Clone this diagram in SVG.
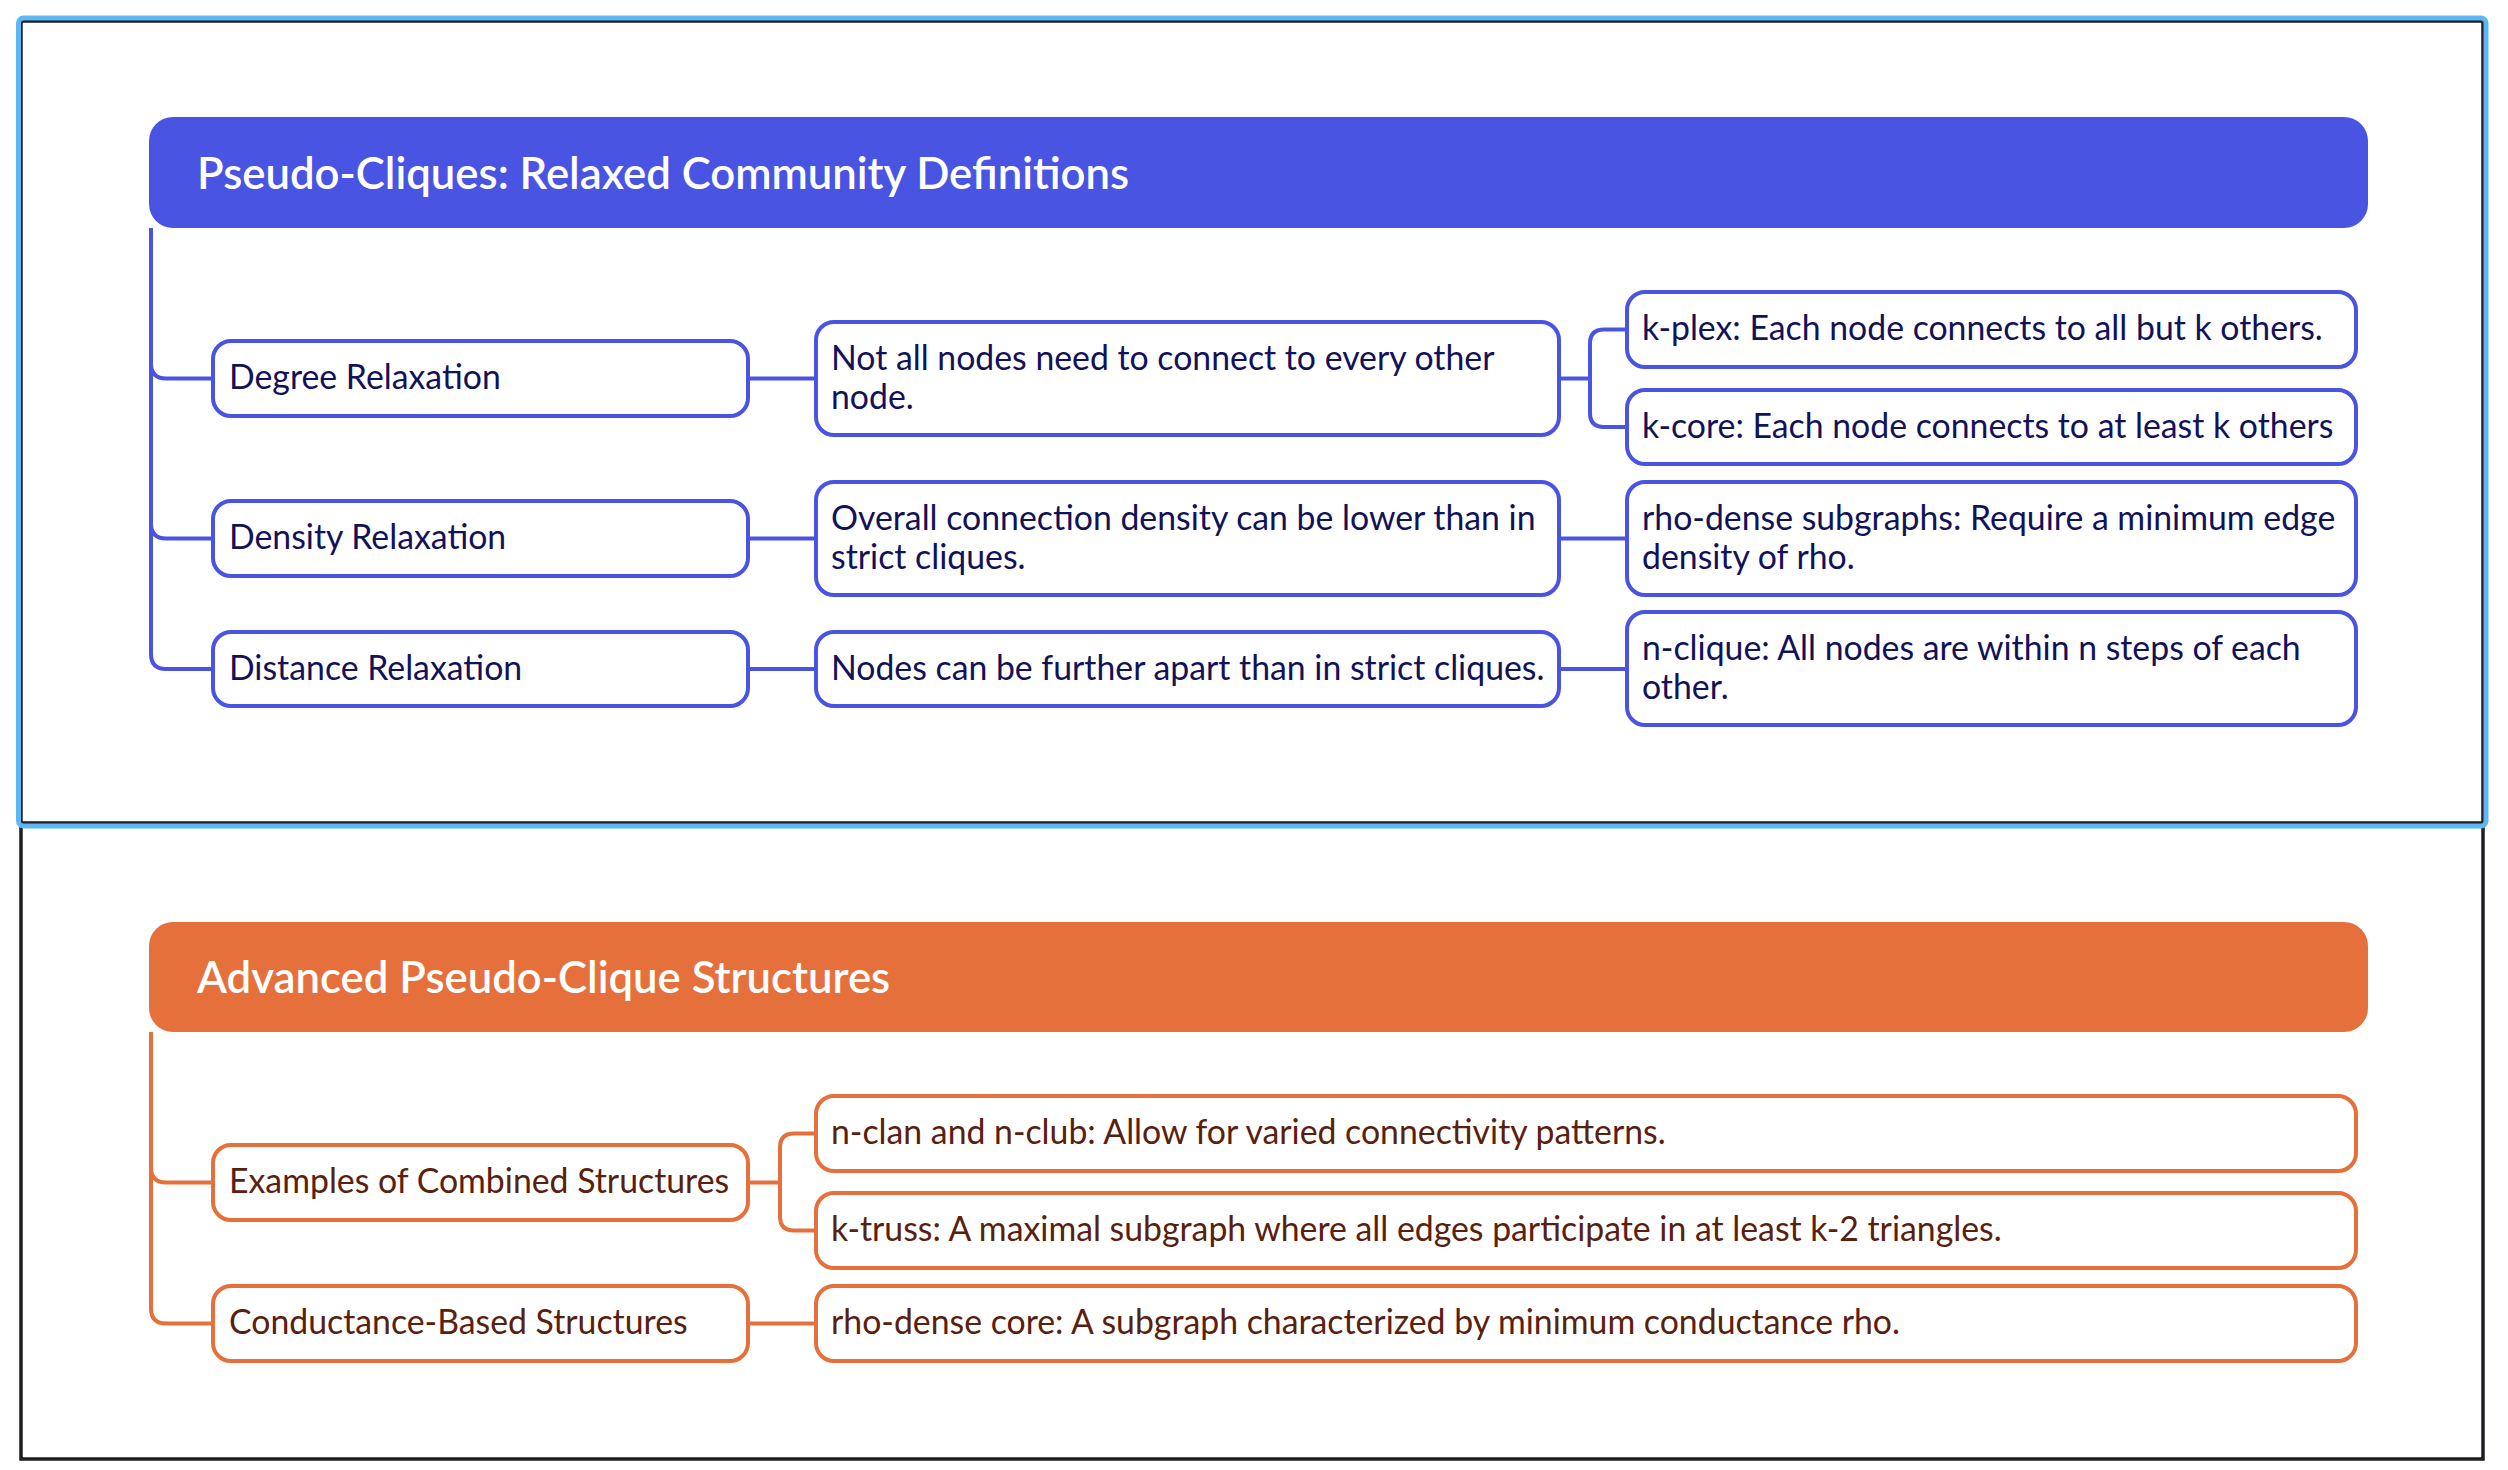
<svg xmlns="http://www.w3.org/2000/svg" width="2508" height="1470" viewBox="0 0 2508 1470">
<style>
  .frame{fill:none;stroke:#1d1d22;stroke-width:3.5}
  .sel{fill:none;stroke:#5cb8f5;stroke-width:5}
  .hdrB{fill:#4a54e3}
  .hdrO{fill:#e6703c}
  .title{font-family:Lato,"Liberation Sans",sans-serif;font-size:43.7px;font-weight:600;fill:#ffffff}
  .nb{fill:#ffffff;stroke:#4a54e3;stroke-width:4}
  .no{fill:#ffffff;stroke:#e6703c;stroke-width:4}
  .tb{font-family:Lato,"Liberation Sans",sans-serif;font-size:33.8px;fill:#12125a}
  .to{font-family:Lato,"Liberation Sans",sans-serif;font-size:33.8px;fill:#5a200e}
  .cb{fill:none;stroke:#4a54e3;stroke-width:4}
  .co{fill:none;stroke:#e6703c;stroke-width:4}
</style>
<rect x="0" y="0" width="2508" height="1470" fill="#ffffff"/>
<g id="frames">
  <rect class="frame" x="21" y="21" width="2462" height="1438"/>
  <line class="frame" x1="21" y1="823" x2="2483" y2="823"/>
  <rect class="sel" x="18.5" y="18" width="2467.5" height="808" rx="5"/>
</g>
<g id="connectors">
  <path class="cb" d="M151 228 V654 Q151 669 166 669 H213"/>
  <path class="cb" d="M151 363.5 Q151 378.5 166 378.5 H213"/>
  <path class="cb" d="M151 523.5 Q151 538.5 166 538.5 H213"/>
  <path class="cb" d="M748 378.5 H816"/>
  <path class="cb" d="M748 538.5 H816"/>
  <path class="cb" d="M748 669 H816"/>
  <path class="cb" d="M1559 378.5 H1590"/>
  <path class="cb" d="M1627 329.5 H1604 Q1590 329.5 1590 343.5 V413 Q1590 427 1604 427 H1627"/>
  <path class="cb" d="M1559 538.5 H1627"/>
  <path class="cb" d="M1559 669 H1627"/>
  <path class="co" d="M151 1032 V1308.5 Q151 1323.5 166 1323.5 H213"/>
  <path class="co" d="M151 1167.5 Q151 1182.5 166 1182.5 H213"/>
  <path class="co" d="M748 1182.5 H780"/>
  <path class="co" d="M816 1133.5 H794 Q780 1133.5 780 1147.5 V1216.5 Q780 1230.5 794 1230.5 H816"/>
  <path class="co" d="M748 1323.5 H816"/>
</g>
<g id="root1">
  <rect class="hdrB" x="149" y="117" width="2219" height="111" rx="24"/>
  <text class="title" x="197" y="189">Pseudo-Cliques: Relaxed Community Definitions</text>
</g>
<g id="degree">
  <rect class="nb" x="213" y="341" width="535" height="75" rx="18"/>
  <text class="tb" x="229" y="389">Degree Relaxation</text>
</g>
<g id="density">
  <rect class="nb" x="213" y="501" width="535" height="75" rx="18"/>
  <text class="tb" x="229" y="549">Density Relaxation</text>
</g>
<g id="distance">
  <rect class="nb" x="213" y="632" width="535" height="74" rx="18"/>
  <text class="tb" x="229" y="679.5">Distance Relaxation</text>
</g>
<g id="degree-desc">
  <rect class="nb" x="816" y="322" width="743" height="113" rx="18"/>
  <text class="tb" x="831" y="370">Not all nodes need to connect to every other</text>
  <text class="tb" x="831" y="409">node.</text>
</g>
<g id="density-desc">
  <rect class="nb" x="816" y="482" width="743" height="113" rx="18"/>
  <text class="tb" x="831" y="530">Overall connection density can be lower than in</text>
  <text class="tb" x="831" y="569">strict cliques.</text>
</g>
<g id="distance-desc">
  <rect class="nb" x="816" y="632" width="743" height="74" rx="18"/>
  <text class="tb" x="831" y="679.5">Nodes can be further apart than in strict cliques.</text>
</g>
<g id="kplex">
  <rect class="nb" x="1627" y="292" width="729" height="75" rx="18"/>
  <text class="tb" x="1642" y="340">k-plex: Each node connects to all but k others.</text>
</g>
<g id="kcore">
  <rect class="nb" x="1627" y="390" width="729" height="74" rx="18"/>
  <text class="tb" x="1642" y="437.5">k-core: Each node connects to at least k others</text>
</g>
<g id="rhodense">
  <rect class="nb" x="1627" y="482" width="729" height="113" rx="18"/>
  <text class="tb" x="1642" y="530">rho-dense subgraphs: Require a minimum edge</text>
  <text class="tb" x="1642" y="569">density of rho.</text>
</g>
<g id="nclique">
  <rect class="nb" x="1627" y="612" width="729" height="113" rx="18"/>
  <text class="tb" x="1642" y="660">n-clique: All nodes are within n steps of each</text>
  <text class="tb" x="1642" y="699">other.</text>
</g>
<g id="root2">
  <rect class="hdrO" x="149" y="922" width="2219" height="110" rx="24"/>
  <text class="title" x="197" y="993">Advanced Pseudo-Clique Structures</text>
</g>
<g id="examples">
  <rect class="no" x="213" y="1145" width="535" height="75" rx="18"/>
  <text class="to" x="229" y="1193">Examples of Combined Structures</text>
</g>
<g id="conductance">
  <rect class="no" x="213" y="1286" width="535" height="75" rx="18"/>
  <text class="to" x="229" y="1334">Conductance-Based Structures</text>
</g>
<g id="nclan">
  <rect class="no" x="816" y="1096" width="1540" height="75" rx="18"/>
  <text class="to" x="831" y="1144">n-clan and n-club: Allow for varied connectivity patterns.</text>
</g>
<g id="ktruss">
  <rect class="no" x="816" y="1193" width="1540" height="75" rx="18"/>
  <text class="to" x="831" y="1241">k-truss: A maximal subgraph where all edges participate in at least k-2 triangles.</text>
</g>
<g id="rhocore">
  <rect class="no" x="816" y="1286" width="1540" height="75" rx="18"/>
  <text class="to" x="831" y="1334">rho-dense core: A subgraph characterized by minimum conductance rho.</text>
</g>
</svg>
